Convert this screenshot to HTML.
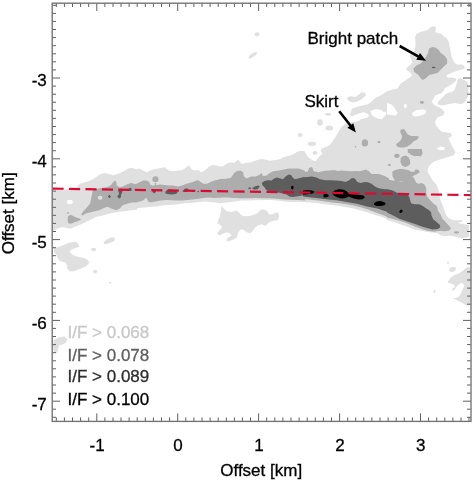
<!DOCTYPE html>
<html><head><meta charset="utf-8"><style>
html,body{margin:0;padding:0;background:#fff;}
body{width:473px;height:482px;overflow:hidden;}
svg{display:block;will-change:transform;filter:blur(0.3px);}
text{font-family:"Liberation Sans",sans-serif;font-size:17px;fill:#000;stroke:#000;stroke-width:0.3px;}
</style></head><body>
<svg width="473" height="482" viewBox="0 0 473 482">
<defs><clipPath id="pc"><rect x="52.0" y="3.0" width="419.0" height="418.4"/></clipPath></defs>
<g clip-path="url(#pc)">
<path d="M386.5 91.5 L392.4 89.6 L397.6 88.5 L399.3 85.5 L401 83.4 L403.5 81.7 L406.1 80 L408.6 78.3 L411.1 76.6 L412 74.5 L409.5 72 L406.9 70.3 L406.1 68.6 L407.8 66.9 L410.3 64.8 L412.4 62.7 L411.6 60.1 L410.3 57.6 L409.5 55.1 L411.5 54 L413.8 53.3 L414.6 49.7 L415.5 46.2 L415.5 41.8 L415 37.3 L416.4 33.8 L420 32.3 L423.5 31.1 L427.1 30.2 L429.2 28.4 L431.5 26.7 L434.2 26.3 L436 27.5 L435.6 30.2 L435.1 32.3 L437.7 32.9 L441.3 33.8 L443.9 36.4 L446.6 38.2 L448.4 40.9 L449.3 44.4 L450.2 48.9 L451 53.3 L451.9 57.7 L453.7 61.3 L455 63.5 L457.3 64.5 L461.7 64.6 L464.4 65.9 L464.7 68.2 L462.6 69.3 L459 70.2 L456.4 71.1 L451.5 73 L448.1 74.4 L446.4 75.7 L446.8 77.1 L448.8 77.7 L452.2 77.6 L455.6 78.2 L456.3 80.6 L453.8 82.7 L450.4 85.2 L447 86.9 L444.5 88.6 L443.6 91.1 L441.1 93.3 L437.7 94.5 L435.1 95.4 L433.5 98.8 L431.5 101.5 L434.2 104.9 L441.3 108.4 L444.8 112 L443 115.5 L437.7 117.3 L435.1 120.9 L435.9 125.3 L438.6 128.9 L441.3 131.5 L446.6 132.4 L451 133.3 L451.9 136 L448.4 138.6 L450.2 142.2 L452.8 147.5 L455.5 151.9 L453.7 155.3 L448.4 157.1 L441.3 158.9 L434.2 161.5 L429.7 165.1 L427.5 169.5 L428.2 173.1 L430.3 176.6 L432.5 180.2 L435 182.9 L437 185.5 L438.6 190.8 L439.5 196.2 L440.5 200 L442 203.3 L443.1 206.6 L444.7 211 L446.4 215.4 L448.6 218.1 L451.9 219.8 L455.2 220.3 L458.5 220.3 L461.8 219.8 L462.9 220.9 L460.7 222 L458.5 222.5 L459.6 223.6 L464 224.2 L467.3 224.7 L469 225.3 L469 236.3 L466.2 237.4 L462.9 237.9 L458.5 237.4 L453 236.3 L448.6 235.7 L444.2 236.3 L440.9 235.2 L437.6 233.3 L430 232.3 L423.5 231.3 L414.6 229.5 L405.8 226.3 L396.9 223 L386.5 219.8Z" fill="#e0e0e0"/>
<path d="M457.3 81.4 L456.7 83.5 L455.4 86.9 L454.6 90.3 L452.1 92 L448.7 92.8 L446.1 93.7 L443.6 96.2 L441.1 98.8 L438.5 101.3 L437.7 103 L438.5 104.7 L441.9 105.5 L446.1 104.7 L450.4 103.8 L454.6 103 L458.8 103.8 L461.5 104.2 L465.3 101.7 L467.8 96.6 L468.5 94 L468.5 87.7 L467.8 82.6 L465.3 80.5 L463.1 79.3 L461.4 78.5 L458.8 78.2 L457.5 79.5Z" fill="#e0e0e0"/>
<path d="M449.1 269.3 L450.8 267.6 L453 266.9 L455.7 267.3 L455.7 269.8 L454.1 271.5 L451.9 272 L449.7 271.5Z" fill="#e0e0e0"/>
<path d="M447.5 281.9 L449.7 279.2 L451.9 276.4 L455.2 274.8 L458.5 273.7 L461.8 271.5 L464.5 269.3 L466.7 267.6 L468.4 267.1 L470 267.6 L470.6 270.4 L470.6 300 L469.5 305.5 L466.2 305.5 L462.4 302.9 L457.8 300.7 L453.3 298.4 L455.2 297.9 L458.5 296.8 L460.7 294 L462.3 290.2 L464 286.3 L463.4 283.6 L461.2 283 L458.5 284.7 L456.3 286.9 L455.2 289.1 L453 290.7 L451.9 290.2 L453 288 L455.2 286.9 L454.1 284.7 L450.8 283.6 L448.6 283Z" fill="#e0e0e0"/>
<path d="M219 166.9 L223.6 166 L227.1 163.3 L230.7 162.4 L234.2 162.8 L236.9 160.7 L238.6 159.8 L240.4 162.4 L242.2 163.9 L245.8 162.8 L250.2 162.4 L254.6 161 L258.2 159.8 L261.7 158.9 L266.2 159.8 L269.7 160.7 L273.3 160.3 L276.8 159.8 L280.4 158.9 L283.9 157.1 L287.5 156.2 L291 155.3 L294.6 153.6 L297.3 151.8 L299.9 150.9 L302.6 150.9 L305 151.4 L305 202 L298.1 202 L291 201.9 L283.9 201.5 L276.8 200.6 L269.7 200.1 L262.6 200.1 L255.5 200.3 L248.4 200.6 L241.3 200.6 L234.2 201.5 L227.1 202.4 L219 203.3Z" fill="#e0e0e0"/>
<path d="M303 151.4 L304.7 151.6 L306.7 155.3 L309.2 158 L313.1 160.5 L315.5 161.2 L318 158 L320.5 155.3 L322.5 153.6 L320.7 151.1 L321.8 149 L389 149 L389 219.6 L382.1 217 L375 215 L367.9 212.5 L360.8 210.4 L353.7 208.6 L346.6 207.2 L339.5 205.9 L332.4 205.1 L325.3 204.3 L318.2 203.3 L311.1 202.6 L303 202Z" fill="#e0e0e0"/>
<path d="M322.5 153.5 L320.6 151 L321.9 148.5 L325 147.2 L328.2 145.9 L330.7 144 L333.3 140.2 L335.8 136.4 L338.6 131.7 L341.3 127.3 L344.8 124.6 L348.4 121.9 L350.2 117.5 L350.2 114 L352 108.6 L357.3 106.8 L362.6 105.4 L367.9 104.2 L371.5 101.5 L375 98 L378.6 96.5 L382.1 94.5 L385 92.5 L388.2 91 L391 90 L391 152 L340 153Z" fill="#e0e0e0"/>
<path d="M346.6 98 L350.2 96.2 L355.5 97.1 L359.1 94.4 L360.8 92.6 L364.4 92.6 L366.2 94.4 L364.4 97.1 L360.8 99.7 L357.3 101.5 L353.7 102.4 L349.3 101.5Z" fill="#e0e0e0"/>
<path d="M221.9 204.8 L222.8 207.4 L226.3 211 L231.6 211.9 L236.1 210.6 L238.7 211.9 L240.5 214.5 L244.1 216.3 L249.4 216 L254.7 214.5 L258.3 212.8 L260.1 210.1 L263.6 209.2 L267.2 211 L268.9 214.5 L272.5 214.2 L276 212.4 L278.2 212.8 L279.2 216.3 L277.8 219.9 L273.4 220.8 L268.9 222.5 L265.4 226.1 L261.8 224.3 L258.3 225.2 L255.6 227 L252.9 230.5 L250.3 233.2 L246.7 232.3 L243.2 229.6 L240.5 229.6 L237.9 233.2 L237 237.6 L233.4 239.4 L228.1 241.5 L226 240.3 L228.1 237.6 L231.6 235.8 L229.9 233.2 L226.3 232.3 L222.8 234.1 L219.2 235.5 L217.1 233.2 L219.2 230.5 L221.9 227.9 L221 225.2 L217.4 223.4 L218.3 219.9 L220.1 216.3 L220.6 212.8 L221.3 208.3Z" fill="#e0e0e0"/>
<path d="M135 169.5 L139.6 168.6 L143.1 170.4 L146.7 172.2 L150.2 170.4 L153.8 169.2 L158.2 168.6 L161.8 167.8 L164.4 166.9 L166.2 168.6 L168.9 170.4 L173.3 171.3 L178.6 170.4 L182.2 169.9 L185.7 167.8 L188.4 165.6 L190.2 166.9 L191.9 169.5 L194.6 170.4 L198.2 169.9 L200.8 172.2 L203.5 171.3 L207 168.6 L209.7 166 L213.3 165.1 L216.8 165.6 L221 166.9 L221 203.3 L215.9 202.6 L210.6 201.9 L205.3 201.5 L199.9 201.9 L194.6 202.4 L189.3 202.9 L183.9 203.3 L178.6 204.2 L173.3 204.7 L168 205.1 L162.6 205.4 L157.3 206.5 L152 206.8 L146.7 207.2 L141.3 207.7 L135 208.6Z" fill="#e0e0e0"/>
<path d="M51 190.5 L57.3 190 L64.4 189.4 L73.3 189.1 L76.9 188.2 L77.8 185.5 L80.4 183.4 L84.9 182.3 L89.3 181.1 L93.7 178.8 L97.3 176.3 L100.8 174 L105.3 173.1 L108.8 174 L113.3 174.9 L117.7 174 L121.3 172.2 L124.8 170.4 L128.4 168.6 L131.9 167.8 L137 169.5 L137 209.7 L131.9 210.2 L126.4 211.1 L121.3 211.6 L116.3 212.3 L111.1 213.2 L106.2 214.5 L101 216.1 L96 217 L90.9 219.4 L85.7 222.1 L80.8 224.6 L75.6 226.4 L70.6 228.8 L67.3 228 L62.1 227.1 L57.2 228.8 L51 231.5Z" fill="#e0e0e0"/>
<path d="M53.8 248.2 L57.3 247.3 L62.7 245.5 L68 242.9 L75.1 241.5 L77.8 242.9 L79.5 246.4 L75.1 248.2 L70.6 250 L69.8 252.6 L73.3 255.3 L78.6 257.1 L84 258 L87.5 259.8 L89.3 262.4 L86.6 266 L83.1 267.7 L78.6 269.5 L74.2 271.3 L69.8 271.3 L67.1 268.6 L67.1 265.1 L65.3 262.4 L61.8 261.5 L59.1 260.6 L57.3 257.1 L55.6 253.5 L53.8 251.8Z" fill="#e0e0e0"/>
<path d="M103.5 242 L107.1 239.3 L111.5 237.2 L114.2 237.6 L115 240.2 L112.4 242 L107.9 243.8 L104.4 244.3Z" fill="#e0e0e0"/>
<path d="M53.8 340 L59.1 337.3 L64.4 336.4 L67.1 339.1 L66.2 342.6 L62.7 344.4 L59.1 345.3 L58.2 348.8 L57.3 352.4 L54.7 353.3 L53.4 349.7 L52.9 344.4Z" fill="#e0e0e0"/>
<ellipse cx="434.5" cy="291.5" rx="1" ry="1.8" fill="#e0e0e0"/>
<ellipse cx="448" cy="262.7" rx="1" ry="1" fill="#e0e0e0"/>
<ellipse cx="320" cy="122.5" rx="2.8" ry="3.2" fill="#e0e0e0"/>
<ellipse cx="329.2" cy="128" rx="3.9" ry="2.5" fill="#e0e0e0"/>
<ellipse cx="328" cy="114.3" rx="3.2" ry="1.4" fill="#e0e0e0"/>
<ellipse cx="312" cy="143.7" rx="4.3" ry="2" fill="#e0e0e0"/>
<ellipse cx="300.2" cy="135" rx="2.5" ry="1.9" fill="#e0e0e0"/>
<ellipse cx="257" cy="34.3" rx="2.5" ry="2.1" fill="#e0e0e0"/>
<ellipse cx="252.8" cy="55.2" rx="5" ry="1.7" transform="rotate(-35 252.8 55.2)" fill="#e0e0e0"/>
<ellipse cx="93.7" cy="249.6" rx="2.5" ry="1.8" fill="#e0e0e0"/>
<ellipse cx="95.2" cy="271.6" rx="2.1" ry="1.8" fill="#e0e0e0"/>
<ellipse cx="110.2" cy="282.8" rx="1.4" ry="0.7" fill="#e0e0e0"/>
<path d="M387 103.1 L391.6 104.5 L395.1 108.8 L397.8 113.4 L395.1 115.5 L387 114.6Z" fill="#ffffff"/>
<path d="M412 112.9 L416.4 110.2 L422.6 109.3 L426.2 110.6 L425.3 113.8 L420.9 115.5 L415.5 116.4 L412.5 115.5Z" fill="#ffffff"/>
<path d="M436.8 148.4 L440.4 146.6 L444.8 147.5 L444.5 149.8 L440.4 150.3 L437.4 149.6Z" fill="#ffffff"/>
<path d="M436.8 168.6 L439.5 166.9 L442.2 167.4 L441.3 169.5 L437.7 169.9Z" fill="#ffffff"/>
<path d="M370.4 110.9 L375.5 109 L381.9 110.3 L383.8 112.2 L385.5 111.5 L386.5 113.5 L384.4 116.6 L381.9 119.2 L376.8 118.2 L373 116 L371.1 113.5Z" fill="#ffffff"/>
<path d="M350.5 115.5 L352.1 116.6 L355.2 114.7 L359 113.5 L363.5 112.2 L367.3 113.5 L369.2 115.4 L367.9 117.3 L364.1 118.5 L360.3 119.2 L359 121.1 L355.2 121.7 L351.4 122.3 L347.6 123.6 L346 122 L349 118Z" fill="#ffffff"/>
<ellipse cx="405.4" cy="106.1" rx="1.4" ry="2.3" fill="#ffffff"/>
<ellipse cx="439.5" cy="168.5" rx="1.8" ry="1.2" fill="#ffffff"/>
<ellipse cx="69.8" cy="201.9" rx="3" ry="2.1" fill="#ffffff"/>
<path d="M429.1 48.6 L432.3 46.9 L435.4 47.6 L438.6 49.7 L440.7 52.9 L444.9 56 L447.1 59.2 L447.1 63.4 L443.9 66.6 L440.7 69.8 L437.5 72.9 L433.3 74 L429.1 75.1 L425.9 78.2 L422.7 79.9 L420.6 78.2 L418.5 75.1 L414.3 71.9 L413.2 68.7 L416.4 65.5 L420.6 63.4 L423.8 60.3 L425.9 57.1 L428 52.9Z" fill="#adadad"/>
<path d="M420 101.3 L422.6 101 L424.4 102.2 L422.6 104 L420.3 103.5Z" fill="#adadad"/>
<path d="M400.4 129.7 L404 128.9 L405.8 131.5 L407.5 134.2 L411.1 136 L416.4 136 L419.1 136.8 L417.3 139.5 L413.8 141.3 L411.1 143.9 L407.5 146.6 L404 147.5 L400.4 147.5 L396.9 146.6 L396 143.9 L398.7 142.2 L401.3 139.5 L402.2 136 L400.4 132.4Z" fill="#adadad"/>
<path d="M407.5 150.2 L411.1 148.9 L415.5 150.2 L419.1 151.9 L422.1 153.7 L420.9 156.4 L416.4 155.5 L412 153.7 L407.9 152.8Z" fill="#adadad"/>
<path d="M402.2 156.4 L405.8 155.5 L408.4 157.3 L410.2 160.8 L409.3 164.4 L405.8 166.1 L402.2 165.3 L400.4 161.7 L400.8 158.2Z" fill="#adadad"/>
<path d="M392.4 171.5 L396.9 169.7 L402.2 168.8 L405.8 170.6 L407.5 172.4 L411.1 172 L414.6 171.5 L418.2 170.6 L420 172 L417.3 174.1 L412.9 175.9 L409.3 177.7 L405.8 181 L395.1 181 L392.4 175.9Z" fill="#adadad"/>
<path d="M219 179.3 L225.3 178.8 L230.7 178.1 L234.2 173.1 L236.9 171 L240.4 170.4 L243.1 172.2 L244 176.6 L246.6 178.4 L251.1 176.6 L255.5 176.6 L259.1 174.9 L261.7 173.1 L262.6 175.8 L266.2 175.8 L269.7 173.1 L273.3 171.3 L278.6 170.4 L283.9 169.5 L289.3 168.6 L294.6 168.6 L298.1 168.6 L301.7 169.5 L305 171 L305 200.6 L298.1 200.1 L291 199.7 L283.9 199.4 L276.8 198.8 L269.7 198.3 L262.6 198.3 L255.5 197.9 L248.4 198.3 L241.3 198.3 L234.2 197.9 L227.1 197.6 L219 197.6Z" fill="#adadad"/>
<path d="M303 171.7 L307.6 171.7 L309.3 167.8 L312 166.9 L313.8 171.3 L318.2 172.2 L323.5 171 L328.9 170.4 L334.2 169.9 L337.7 171 L341.3 170.4 L346.6 171 L351.1 171.3 L355.5 171 L359.1 171.3 L362.6 170.4 L366.2 169.5 L368.8 171.3 L371.5 174 L375 174 L378.6 174 L382.1 174.9 L385.7 176.6 L389 178.4 L389 217.5 L382.1 214.8 L375 212.2 L367.9 209.5 L360.8 207.2 L353.7 205.4 L346.6 204.2 L339.5 203.3 L332.4 202.4 L325.3 201.5 L318.2 200.6 L311.1 199.7 L303 199Z" fill="#adadad"/>
<path d="M387 179.3 L391.6 180.2 L396.9 181.1 L402.2 181.6 L405.8 180.2 L407.5 177.5 L410.2 175.8 L412.9 176.6 L414.6 179.3 L416.4 182.9 L419.1 183.7 L421.7 182.9 L424.4 184.6 L426.2 188.2 L426.2 192.6 L427.1 196.2 L429.7 199.7 L433.3 203.3 L435.9 206.8 L437.7 210.4 L440.4 213.9 L442.2 218.4 L444.8 221 L447.5 224.6 L448.4 228.1 L444.8 229.9 L439.5 230.8 L434.2 231.7 L427.1 230.8 L421.7 229 L414.6 226.4 L405.8 222.8 L396.9 220.1 L387 217.5Z" fill="#adadad"/>
<path d="M392.4 172.2 L395.1 169.9 L400.4 169.2 L405.8 169.5 L409.3 170.4 L412 172.2 L410.2 174 L405.8 174.5 L400.4 174.9 L395.1 174.5Z" fill="#adadad"/>
<path d="M401.3 158.9 L404 156.7 L407.5 157.1 L409.7 159.8 L410.2 163.3 L408.4 166 L404.9 166.9 L402.2 165.6 L400.8 162.4Z" fill="#adadad"/>
<path d="M407.5 149 L421.7 149 L422.6 153.6 L419.1 155.7 L414.6 156.2 L410.2 154.4Z" fill="#adadad"/>
<path d="M420 225.3 L422.2 225.8 L426.6 227.5 L431 228.6 L435.4 229.7 L439.8 230.8 L444.2 231.3 L448.6 230.8 L450.8 229.1 L450.2 226.9 L447.5 224.2 L443.1 220.9 L439.8 217.6 L438.1 213.2 L437.6 208.8 L436.5 205.5 L433.2 203.8 L428.8 202.2 L424.4 200 L420 200Z" fill="#adadad"/>
<path d="M135 184.6 L139.6 182.3 L143.1 180.5 L146.7 180.5 L149.3 182 L150.2 184.6 L152 185.5 L155.5 185.2 L160 184.6 L164.4 185 L168.9 185.5 L173.3 185.5 L177.7 186.4 L182.2 185.5 L185.7 184.1 L189.3 182.9 L192.8 182 L196.4 180.5 L198.2 180.2 L200.8 182 L203.5 183.7 L207 183.7 L210.6 182 L214.1 180.5 L217.7 179.8 L221 179.3 L221 197.6 L214.1 197.9 L208.8 197.6 L203.5 197.9 L198.2 198.8 L192.8 199.4 L187.5 200.1 L182.2 200.6 L176.8 200.6 L171.5 200.3 L166.2 200.1 L160.9 200.6 L155.5 201.5 L150.2 202.4 L148.1 201.5 L146.7 197.9 L144.9 198.8 L143.1 200.6 L139.6 201.5 L135 202.4Z" fill="#adadad"/>
<path d="M154.6 182.9 L156.4 182.9 L156.1 185.5 L155 185.5Z" fill="#adadad"/>
<path d="M81.3 213.9 L84 210.4 L87.5 206.8 L90.2 203.3 L91.1 198.8 L92 194.4 L92.5 190.8 L94.6 189.4 L99.9 188.2 L105.3 187.3 L108.8 186.4 L111.5 184.6 L113.3 182 L115 180.5 L116.3 182 L116.8 185.5 L119.5 187.3 L123 186.4 L126.6 184.6 L131 182.9 L137 184.6 L137 202.2 L131.9 202.6 L128 203.5 L123 205.1 L119.7 208.6 L116.3 210.2 L111.1 208.6 L107.8 206.8 L104.4 207.7 L99.4 210.2 L92.7 211.8 L85.7 213.6 L82.2 215.7Z" fill="#adadad"/>
<path d="M68 216.6 L70.6 214.8 L73.3 216.1 L76 217.5 L79.5 218.4 L81.3 219.3 L78.6 221 L75.1 221.9 L72.4 223.2 L69.8 223.7 L68 222.8 L67.6 219.6Z" fill="#adadad"/>
<ellipse cx="456.5" cy="232.4" rx="2.5" ry="1.2" fill="#adadad"/>
<ellipse cx="396.9" cy="155.5" rx="2.7" ry="1.8" fill="#adadad"/>
<ellipse cx="389.4" cy="164.9" rx="1.4" ry="1.2" fill="#adadad"/>
<ellipse cx="396.9" cy="156.2" rx="2.7" ry="1.8" fill="#adadad"/>
<ellipse cx="416.8" cy="170.8" rx="2.1" ry="1.2" fill="#adadad"/>
<ellipse cx="364.9" cy="142.9" rx="3.2" ry="3.6" fill="#adadad"/>
<ellipse cx="378.9" cy="142" rx="1.4" ry="1.2" fill="#adadad"/>
<ellipse cx="355.5" cy="146.8" rx="0.8" ry="0.8" fill="#adadad"/>
<ellipse cx="155.4" cy="179.3" rx="3.1" ry="3" fill="#adadad"/>
<ellipse cx="68" cy="212.9" rx="1" ry="0.8" fill="#adadad"/>
<ellipse cx="314.9" cy="152.9" rx="2.5" ry="1.8" fill="#e0e0e0"/>
<ellipse cx="100.1" cy="197.8" rx="2.4" ry="2" fill="#e0e0e0"/>
<path d="M261.7 182.9 L264.4 181.1 L267.9 180.2 L271.5 180.5 L274.2 178.4 L276.8 177.5 L280.4 178.4 L283 179.3 L285.7 176.6 L288.4 174.5 L291 174.9 L292.8 177.5 L294.6 179.3 L298.1 178.4 L301.7 177.5 L305 177 L305 195.3 L300.8 195.8 L296.4 196.5 L292.8 197.1 L289.3 196.5 L286.6 194.4 L282.2 193.5 L278.6 192.6 L273.3 192.6 L269.7 191.7 L266.2 190 L264.4 187.3 L262.6 185.5Z" fill="#5d5d5d"/>
<path d="M252 188.2 L254.6 186.4 L258.2 185.5 L260 186.4 L257.3 189.4 L253.7 189.4Z" fill="#5d5d5d"/>
<path d="M303 177.5 L307.6 177 L312 176.6 L316.4 177.5 L320 179.3 L325.3 180.2 L330.6 180.2 L336 180.5 L341.3 181.1 L345.7 182 L349.3 180.2 L351.1 178.4 L353.7 177.9 L355.5 179.3 L357.3 182 L360.8 182.9 L364.4 182 L367.9 182.3 L371.5 183.7 L375 186.4 L378.6 188.2 L383 189.1 L389 189.6 L389 212.5 L383.9 210.7 L377.2 208.6 L367 206.5 L356.9 203.8 L346.6 201.9 L336.7 200.3 L326.4 199.2 L316.3 198.1 L309.3 197.2 L303 196.5Z" fill="#5d5d5d"/>
<path d="M387 189.4 L391.6 190 L395.1 191.7 L398.7 193.5 L404 194 L407.5 194.4 L409.3 197.1 L410.2 200.6 L411.1 203.3 L414.6 204.2 L419.1 204.2 L422.6 205.9 L426.2 208.6 L429.7 211.3 L430.6 214.8 L430.6 218.4 L433.3 221 L436.8 222.8 L439.5 224.6 L440.4 227.3 L437.7 229 L432.4 229.6 L427.1 228.1 L421.7 226.4 L416.4 224.6 L411.1 222.8 L405.8 221 L400.4 219.3 L395.1 216.6 L387 212.5Z" fill="#5d5d5d"/>
<path d="M420 204.4 L424.4 207.7 L428.8 209.9 L431 212.1 L431.5 215.4 L433.2 219.2 L436.5 222 L439.2 224.7 L439.8 226.9 L437.6 228 L433.2 227.5 L428.8 225.8 L424.4 223.6 L420 222Z" fill="#5d5d5d"/>
<path d="M152 190.8 L153.8 190 L156.4 190.5 L154.6 193.5 L152.9 192.6Z" fill="#5d5d5d"/>
<path d="M165.3 191.7 L167.1 190 L170.6 189.4 L174.2 190 L176 190.8 L177.7 192.3 L176 194 L171.5 194.4 L167.1 194 L165.3 193.2Z" fill="#5d5d5d"/>
<path d="M182.2 191.2 L184.8 188.7 L187.5 188.2 L188.9 190 L187.5 191.7 L183.9 192.1Z" fill="#5d5d5d"/>
<path d="M118.1 190 L120.4 189.1 L123 189.4 L122.1 192.6 L120.9 195.3 L120.4 197.9 L118.1 196.5 L119.1 193.5Z" fill="#5d5d5d"/>
<path d="M109.4 194.8 L111 196.5 L109.4 198.3 L107.8 196.5Z" fill="#5d5d5d"/>
<path d="M119.1 194.4 L121.1 196.5 L119.1 198.7 L117.2 196.5Z" fill="#5d5d5d"/>
<ellipse cx="433.6" cy="67.5" rx="2" ry="0.8" fill="#5d5d5d"/>
<ellipse cx="249.7" cy="188.2" rx="1.3" ry="1" fill="#5d5d5d"/>
<ellipse cx="198.2" cy="191.6" rx="0.8" ry="0.8" fill="#5d5d5d"/>
<ellipse cx="130.1" cy="189.4" rx="1.6" ry="1.6" fill="#5d5d5d"/>
<path d="M303 190.5 L307.6 190 L312 190.5 L314.7 191.7 L312.9 193.5 L309.3 194 L305.8 194.4 L303 194.4Z" fill="#000000"/>
<path d="M323.5 194.4 L326.2 193.5 L328.9 195.3 L328 197.1 L324.4 197.6 L323.2 196.2Z" fill="#000000"/>
<path d="M332.4 192.6 L334.5 190.5 L338.6 189.2 L343.1 189.6 L346.6 191.2 L348.8 193.5 L351.9 194.2 L356.4 194.6 L360.8 194.9 L364 195.8 L364.7 197.6 L362.6 199.2 L358.2 199.5 L353.7 198.5 L350.5 197.2 L348.4 196.5 L345.7 197.9 L341.6 198.5 L337.7 197.6 L334.2 195.8 L332.4 194Z" fill="#000000"/>
<path d="M374.1 203.3 L376.8 201.5 L380.4 201.1 L383.9 201.9 L385.7 203.3 L384.8 205.1 L381.3 205.9 L376.8 205.9 L374.1 204.7Z" fill="#000000"/>
<ellipse cx="292.3" cy="187.6" rx="1.3" ry="1.8" fill="#000000"/>
<ellipse cx="401" cy="211.3" rx="1.9" ry="1.4" transform="rotate(-45 401 211.3)" fill="#000000"/>
<line x1="52.6" y1="188.6" x2="471" y2="195.1" stroke="#dc0a32" stroke-width="2.2" stroke-dasharray="11.1 5.35" />
</g>
<path d="M56.3 421.4V417.4 M56.3 3.0V7.0 M64.4 421.4V417.4 M64.4 3.0V7.0 M72.5 421.4V417.4 M72.5 3.0V7.0 M80.6 421.4V417.4 M80.6 3.0V7.0 M88.7 421.4V417.4 M88.7 3.0V7.0 M96.8 421.4V413.4 M96.8 3.0V11.0 M104.9 421.4V417.4 M104.9 3.0V7.0 M113.0 421.4V417.4 M113.0 3.0V7.0 M121.0 421.4V417.4 M121.0 3.0V7.0 M129.1 421.4V417.4 M129.1 3.0V7.0 M137.2 421.4V417.4 M137.2 3.0V7.0 M145.3 421.4V417.4 M145.3 3.0V7.0 M153.4 421.4V417.4 M153.4 3.0V7.0 M161.5 421.4V417.4 M161.5 3.0V7.0 M169.6 421.4V417.4 M169.6 3.0V7.0 M177.7 421.4V413.4 M177.7 3.0V11.0 M185.8 421.4V417.4 M185.8 3.0V7.0 M193.9 421.4V417.4 M193.9 3.0V7.0 M202.0 421.4V417.4 M202.0 3.0V7.0 M210.1 421.4V417.4 M210.1 3.0V7.0 M218.2 421.4V417.4 M218.2 3.0V7.0 M226.3 421.4V417.4 M226.3 3.0V7.0 M234.4 421.4V417.4 M234.4 3.0V7.0 M242.4 421.4V417.4 M242.4 3.0V7.0 M250.5 421.4V417.4 M250.5 3.0V7.0 M258.6 421.4V413.4 M258.6 3.0V11.0 M266.7 421.4V417.4 M266.7 3.0V7.0 M274.8 421.4V417.4 M274.8 3.0V7.0 M282.9 421.4V417.4 M282.9 3.0V7.0 M291.0 421.4V417.4 M291.0 3.0V7.0 M299.1 421.4V417.4 M299.1 3.0V7.0 M307.2 421.4V417.4 M307.2 3.0V7.0 M315.3 421.4V417.4 M315.3 3.0V7.0 M323.4 421.4V417.4 M323.4 3.0V7.0 M331.5 421.4V417.4 M331.5 3.0V7.0 M339.6 421.4V413.4 M339.6 3.0V11.0 M347.7 421.4V417.4 M347.7 3.0V7.0 M355.7 421.4V417.4 M355.7 3.0V7.0 M363.8 421.4V417.4 M363.8 3.0V7.0 M371.9 421.4V417.4 M371.9 3.0V7.0 M380.0 421.4V417.4 M380.0 3.0V7.0 M388.1 421.4V417.4 M388.1 3.0V7.0 M396.2 421.4V417.4 M396.2 3.0V7.0 M404.3 421.4V417.4 M404.3 3.0V7.0 M412.4 421.4V417.4 M412.4 3.0V7.0 M420.5 421.4V413.4 M420.5 3.0V11.0 M428.6 421.4V417.4 M428.6 3.0V7.0 M436.7 421.4V417.4 M436.7 3.0V7.0 M444.8 421.4V417.4 M444.8 3.0V7.0 M452.9 421.4V417.4 M452.9 3.0V7.0 M461.0 421.4V417.4 M461.0 3.0V7.0 M469.0 421.4V417.4 M469.0 3.0V7.0 M52.0 417.3H56.0 M471.0 417.3H467.0 M52.0 409.2H56.0 M471.0 409.2H467.0 M52.0 401.2H60.0 M471.0 401.2H463.0 M52.0 393.1H56.0 M471.0 393.1H467.0 M52.0 385.0H56.0 M471.0 385.0H467.0 M52.0 376.9H56.0 M471.0 376.9H467.0 M52.0 368.8H56.0 M471.0 368.8H467.0 M52.0 360.8H56.0 M471.0 360.8H467.0 M52.0 352.7H56.0 M471.0 352.7H467.0 M52.0 344.6H56.0 M471.0 344.6H467.0 M52.0 336.5H56.0 M471.0 336.5H467.0 M52.0 328.4H56.0 M471.0 328.4H467.0 M52.0 320.4H60.0 M471.0 320.4H463.0 M52.0 312.3H56.0 M471.0 312.3H467.0 M52.0 304.2H56.0 M471.0 304.2H467.0 M52.0 296.1H56.0 M471.0 296.1H467.0 M52.0 288.1H56.0 M471.0 288.1H467.0 M52.0 280.0H56.0 M471.0 280.0H467.0 M52.0 271.9H56.0 M471.0 271.9H467.0 M52.0 263.8H56.0 M471.0 263.8H467.0 M52.0 255.7H56.0 M471.0 255.7H467.0 M52.0 247.7H56.0 M471.0 247.7H467.0 M52.0 239.6H60.0 M471.0 239.6H463.0 M52.0 231.5H56.0 M471.0 231.5H467.0 M52.0 223.4H56.0 M471.0 223.4H467.0 M52.0 215.3H56.0 M471.0 215.3H467.0 M52.0 207.3H56.0 M471.0 207.3H467.0 M52.0 199.2H56.0 M471.0 199.2H467.0 M52.0 191.1H56.0 M471.0 191.1H467.0 M52.0 183.0H56.0 M471.0 183.0H467.0 M52.0 174.9H56.0 M471.0 174.9H467.0 M52.0 166.9H56.0 M471.0 166.9H467.0 M52.0 158.8H60.0 M471.0 158.8H463.0 M52.0 150.7H56.0 M471.0 150.7H467.0 M52.0 142.6H56.0 M471.0 142.6H467.0 M52.0 134.6H56.0 M471.0 134.6H467.0 M52.0 126.5H56.0 M471.0 126.5H467.0 M52.0 118.4H56.0 M471.0 118.4H467.0 M52.0 110.3H56.0 M471.0 110.3H467.0 M52.0 102.2H56.0 M471.0 102.2H467.0 M52.0 94.2H56.0 M471.0 94.2H467.0 M52.0 86.1H56.0 M471.0 86.1H467.0 M52.0 78.0H60.0 M471.0 78.0H463.0 M52.0 69.9H56.0 M471.0 69.9H467.0 M52.0 61.8H56.0 M471.0 61.8H467.0 M52.0 53.8H56.0 M471.0 53.8H467.0 M52.0 45.7H56.0 M471.0 45.7H467.0 M52.0 37.6H56.0 M471.0 37.6H467.0 M52.0 29.5H56.0 M471.0 29.5H467.0 M52.0 21.4H56.0 M471.0 21.4H467.0 M52.0 13.4H56.0 M471.0 13.4H467.0 M52.0 5.3H56.0 M471.0 5.3H467.0" stroke="#606060" stroke-width="1.0" fill="none"/>
<rect x="52.2" y="3.2" width="418.8" height="418.2" fill="none" stroke="#727272" stroke-width="1.35"/>
<text x="97.1" y="451.2" text-anchor="middle">-1</text>
<text x="178.0" y="451.2" text-anchor="middle">0</text>
<text x="258.9" y="451.2" text-anchor="middle">1</text>
<text x="339.9" y="451.2" text-anchor="middle">2</text>
<text x="420.8" y="451.2" text-anchor="middle">3</text>
<text x="46.8" y="86.4" text-anchor="end">-3</text>
<text x="46.8" y="167.2" text-anchor="end">-4</text>
<text x="46.8" y="248.0" text-anchor="end">-5</text>
<text x="46.8" y="328.8" text-anchor="end">-6</text>
<text x="46.8" y="409.6" text-anchor="end">-7</text>
<text x="261.2" y="476.2" text-anchor="middle">Offset [km]</text>
<text transform="translate(14.3 213.3) rotate(-90)" text-anchor="middle">Offset [km]</text>
<text x="67.5" y="338.4" style="fill:#c8c8c8;stroke:#c8c8c8">I/F &gt; 0.068</text>
<text x="67.5" y="360.7" style="fill:#5f5f5f;stroke:#5f5f5f">I/F &gt; 0.078</text>
<text x="67.5" y="382.3" style="fill:#2e2e2e;stroke:#2e2e2e">I/F &gt; 0.089</text>
<text x="67.5" y="405.0" style="fill:#000000;stroke:#000000">I/F &gt; 0.100</text>
<text x="307.5" y="43.6">Bright patch</text>
<text x="304.5" y="106.7">Skirt</text>
<line x1="399.7" y1="46.0" x2="419.0" y2="56.9" stroke="#000" stroke-width="2.6"/><path d="M426.0 60.8L416.3 59.7L420.0 53.1Z" fill="#000"/><line x1="339.3" y1="111.3" x2="351.0" y2="126.3" stroke="#000" stroke-width="2.6"/><path d="M355.9 132.6L347.4 127.8L353.3 123.2Z" fill="#000"/>
</svg>
</body></html>
